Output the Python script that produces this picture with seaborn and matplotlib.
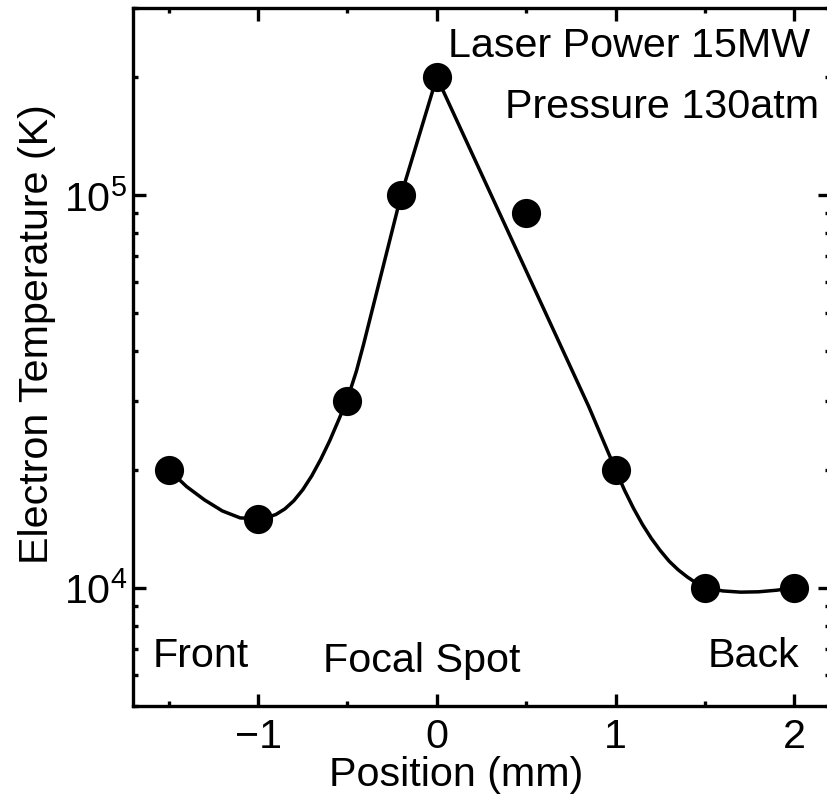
import matplotlib
matplotlib.use("Agg")
import matplotlib.pyplot as plt
import matplotlib.ticker as mticker
import seaborn as sns
import pandas as pd

# Measured electron temperature along the beam axis
position_mm = [-1.5, -1.0, -0.5, -0.2, 0.0, 0.5, 1.0, 1.5, 2.0]
temperature_K = [2.0e4, 1.5e4, 3.0e4, 1.0e5, 2.0e5, 9.0e4, 2.0e4, 1.0e4, 1.0e4]

# Smooth fit curve through the measurements
fit_pos = [-1.5, -1.4, -1.3, -1.2, -1.1, -1.0, -0.95, -0.9, -0.85, -0.8,
           -0.75, -0.7, -0.65, -0.6, -0.55, -0.5, -0.45, -0.41, -0.2, 0.0,
           0.85, 1.0, 1.05, 1.1, 1.15, 1.2,
           1.25, 1.3, 1.35, 1.4, 1.45, 1.5, 1.6, 1.7, 1.8, 1.9, 2.0]
fit_temp = [2.0e4, 1.811e4, 1.675e4, 1.570e4, 1.507e4, 1.500e4, 1.510e4,
            1.538e4, 1.589e4, 1.667e4, 1.778e4, 1.928e4, 2.123e4, 2.366e4,
            2.673e4, 3.027e4, 3.565e4, 4.169e4, 1.0e5, 2.0e5,
            2.897e4, 2.0e4,
            1.774e4, 1.596e4, 1.452e4, 1.337e4, 1.245e4, 1.169e4, 1.112e4,
            1.067e4, 1.030e4, 1.002e4, 9.82e3, 9.75e3, 9.77e3, 9.86e3, 1.0e4]

x_ticks = [-1, 0, 1, 2]
annotations = ["Laser Power 15MW", "Pressure 130atm", "Front", "Focal Spot", "Back"]

sns.set_style("ticks")
plt.rcParams["font.family"] = ["Liberation Sans", "DejaVu Sans"]
plt.rcParams["mathtext.fontset"] = "custom"
plt.rcParams["mathtext.rm"] = "Liberation Sans"
plt.rcParams["mathtext.it"] = "Liberation Sans:italic"
plt.rcParams["mathtext.bf"] = "Liberation Sans:bold"
for key in ("text.color", "axes.labelcolor", "xtick.color", "ytick.color",
            "axes.edgecolor"):
    plt.rcParams[key] = "black"
plt.rcParams["lines.solid_joinstyle"] = "round"

FS = 29.7
W, H = 827, 796
fig = plt.figure(figsize=(W / 100, H / 100), dpi=100)
ax = fig.add_axes([133 / W, 90 / H, 697 / W, 698 / H])

fit_df = pd.DataFrame({"pos": fit_pos, "temp": fit_temp})
pts_df = pd.DataFrame({"pos": position_mm, "temp": temperature_K})

sns.lineplot(data=fit_df, x="pos", y="temp", sort=False, color="black",
             linewidth=2.5, ax=ax, zorder=2)
sns.scatterplot(data=pts_df, x="pos", y="temp", color="black", s=21 ** 2,
                linewidth=0, ax=ax, zorder=3)

ax.set_yscale("log")
ax.set_xlim(-1.7, 2.2)
ax.set_ylim(5e3, 3e5)

ax.set_xticks(x_ticks)
ax.xaxis.set_minor_locator(mticker.MultipleLocator(0.5))
ax.yaxis.set_major_locator(mticker.LogLocator(base=10))
ax.yaxis.set_minor_locator(mticker.LogLocator(base=10, subs=range(2, 10)))
ax.yaxis.set_minor_formatter(mticker.NullFormatter())
ax.yaxis.set_major_formatter(mticker.LogFormatterSciNotation())

for sp in ax.spines.values():
    sp.set_visible(True)
    sp.set_linewidth(2.4)
    sp.set_color("black")

ax.tick_params(which="both", direction="in", top=True, right=True,
               width=2.4, color="black", labelsize=FS, labelcolor="black")
ax.tick_params(which="major", length=9)
ax.tick_params(which="minor", length=3.5)
ax.tick_params(axis="x", which="major", pad=9)
ax.tick_params(axis="y", which="major", pad=4)

ax.set_xlabel("Position (mm)", fontsize=FS, color="black")
ax.set_ylabel("Electron Temperature (K)", fontsize=FS, color="black")
ax.xaxis.set_label_coords(0.464, -0.072)
ax.yaxis.set_label_coords(-0.1105, 0.533)

ax.text(0.971, 0.930, annotations[0], transform=ax.transAxes, fontsize=FS,
        ha="right", va="baseline", color="black")
ax.text(0.984, 0.842, annotations[1], transform=ax.transAxes, fontsize=FS,
        ha="right", va="baseline", color="black")
ax.text(0.0287, 0.0559, annotations[2], transform=ax.transAxes, fontsize=FS,
        ha="left", va="baseline", color="black")
ax.text(0.2726, 0.0487, annotations[3], transform=ax.transAxes, fontsize=FS,
        ha="left", va="baseline", color="black")
ax.text(0.825, 0.0559, annotations[4], transform=ax.transAxes, fontsize=FS,
        ha="left", va="baseline", color="black")

ax.grid(False)
fig.savefig("out.png", dpi=100, facecolor="white")
